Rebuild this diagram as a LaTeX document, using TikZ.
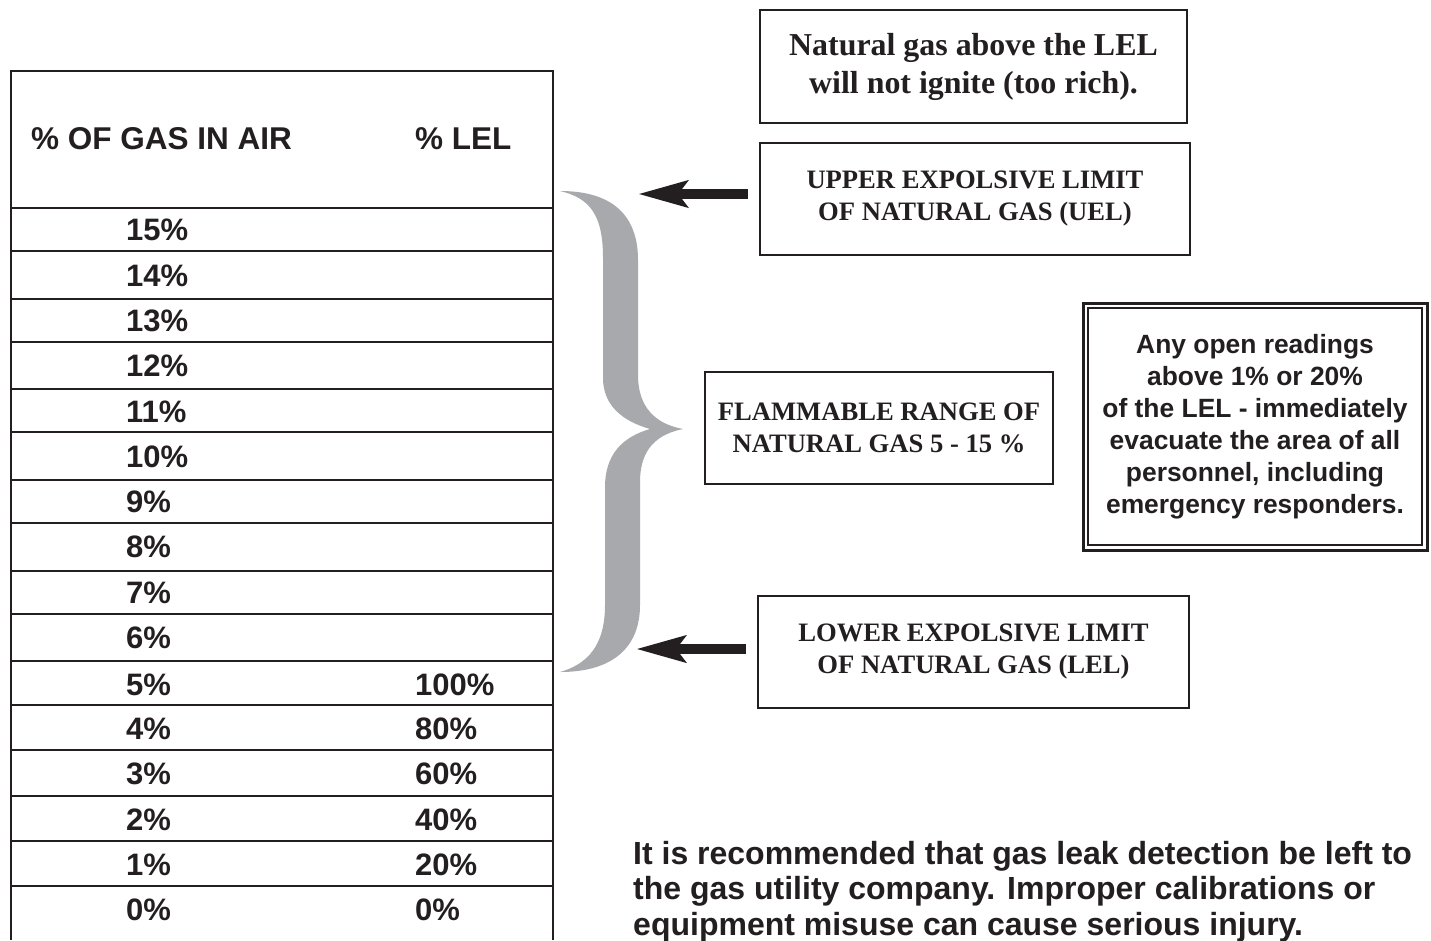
\documentclass[tikz,border=0pt]{standalone}
\usepackage{fontspec}
\setmainfont{Liberation Serif}
\setsansfont{Liberation Sans}
\usetikzlibrary{arrows.meta}
\definecolor{ink}{HTML}{231F20}
\definecolor{bracegray}{HTML}{A7A9AC}
\begin{document}
\begin{tikzpicture}[x=1pt,y=-1pt,
  cell/.style={anchor=base west,inner sep=0pt,text=ink,font=\sffamily\bfseries\fontsize{31}{37}\selectfont},
  headcell/.style={cell,font=\sffamily\bfseries\fontsize{31.5}{37}\selectfont},
  para/.style={anchor=base west,inner sep=0pt,text=ink,font=\sffamily\bfseries\fontsize{32}{36}\selectfont},
  serifbox/.style={draw=ink,line width=2pt,rectangle,inner sep=0pt,align=center,text=ink,font=\rmfamily\bfseries\fontsize{26.6}{32}\selectfont},
  bigserifbox/.style={serifbox,font=\rmfamily\bfseries\fontsize{31.9}{38}\selectfont},
  rowline/.style={draw=ink,line width=1.4pt},
  border/.style={draw=ink,line width=2.4pt},
  bigarrow/.style={draw=ink,line width=10pt,-{Stealth[length=49pt,width=26pt,inset=9pt]}}
]
\useasboundingbox (0,0) rectangle (1431,940);
\fill[white] (0,0) rectangle (1431,940);

% table frame
\draw[border] (11,940) -- (11,71) -- (553,71) -- (553,940);
\foreach \y in {208,251,299,342,389,432,480,523,571,614,661,705,750,796,841,886}
  \draw[rowline] (11,\y) -- (553,\y);

% header
\node[headcell] (h1) at (31,149) {\% OF GAS IN AIR};
\node[headcell] (h2) at (415,149) {\% LEL};

% left column
\node[cell] (r15) at (126,240) {15\%};
\node[cell] (r14) at (126,286) {14\%};
\node[cell] (r13) at (126,331) {13\%};
\node[cell] (r12) at (126,376) {12\%};
\node[cell] (r11) at (126,422) {11\%};
\node[cell] (r10) at (126,467) {10\%};
\node[cell] (r9) at (126,512) {9\%};
\node[cell] (r8) at (126,557) {8\%};
\node[cell] (r7) at (126,603) {7\%};
\node[cell] (r6) at (126,648) {6\%};
\node[cell] (r5) at (126,695) {5\%};
\node[cell] (r4) at (126,739) {4\%};
\node[cell] (r3) at (126,784) {3\%};
\node[cell] (r2) at (126,830) {2\%};
\node[cell] (r1) at (126,875) {1\%};
\node[cell] (r0) at (126,920) {0\%};
% right column
\node[cell] (l5) at (415,695) {100\%};
\node[cell] (l4) at (415,739) {80\%};
\node[cell] (l3) at (415,784) {60\%};
\node[cell] (l2) at (415,830) {40\%};
\node[cell] (l1) at (415,875) {20\%};
\node[cell] (l0) at (415,920) {0\%};

% brace
\fill[bracegray]
  (560,191) .. controls (612,191) and (638,215) .. (638,260)
  -- (638,375) .. controls (638,408) and (656,424) .. (683,429)
  .. controls (658,434) and (640,448) .. (640,482)
  -- (640,605) .. controls (640,648) and (612,672) .. (560,672)
  .. controls (588,664) and (605,645) .. (605,605)
  -- (605,487) .. controls (605,455) and (622,437) .. (650,429)
  .. controls (622,421) and (603,405) .. (603,378)
  -- (603,258) .. controls (603,215) and (590,198) .. (560,191) -- cycle;

% boxes
\node[bigserifbox,minimum width=427pt,minimum height=113pt] (rich) at (973.5,66.5)
  {Natural gas above the LEL\\will not ignite (too rich).};
\node[serifbox,minimum width=430pt,minimum height=112pt] (uel) at (975,199)
  {UPPER EXPOLSIVE LIMIT\\OF NATURAL GAS (UEL)};
\node[serifbox,minimum width=348pt,minimum height=112pt] (flam) at (879,428)
  {FLAMMABLE RANGE OF\\NATURAL GAS 5 - 15 \%};
\node[serifbox,minimum width=431pt,minimum height=112pt] (lel) at (973.5,652)
  {LOWER EXPOLSIVE LIMIT\\OF NATURAL GAS (LEL)};

% double-framed warning
\node[draw=ink,line width=3pt,minimum width=344pt,minimum height=247pt,inner sep=0pt] (warnout) at (1255,426.5) {};
\node[draw=ink,line width=2pt,minimum width=334pt,minimum height=237pt,inner sep=0pt,align=center,text=ink,
  font=\sffamily\bfseries\fontsize{26.4}{32}\selectfont] (warn) at (1255,426.5)
  {Any open readings\\above 1\% or 20\%\\of the LEL - immediately\\evacuate the area of all\\personnel, including\\emergency responders.};

% arrows
\coordinate (uelstart) at (748,194);
\coordinate (ueltip) at (638,194);
\coordinate (lelstart) at (746,649);
\coordinate (leltip) at (636,649);
\draw[bigarrow] (uelstart) -- (ueltip);
\draw[bigarrow] (lelstart) -- (leltip);

% bottom paragraph
\node[para] (p1) at (633,864) {It is recommended that gas leak detection be left to};
\node[para] (p2) at (633,899.5) {the gas utility company. Improper calibrations or};
\node[para] (p3) at (633,935) {equipment misuse can cause serious injury.};
\end{tikzpicture}
\end{document}
